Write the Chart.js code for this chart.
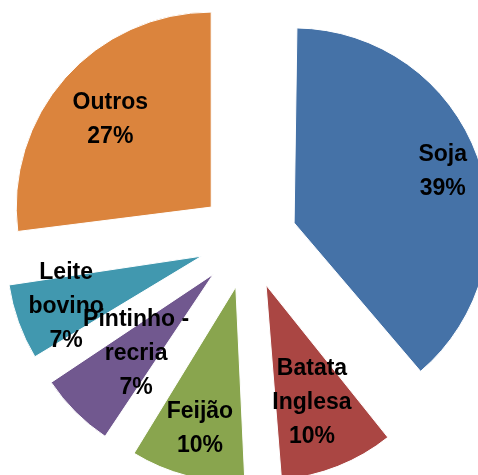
<!DOCTYPE html>
<meta charset="UTF-8">
<style>
  html, body { margin: 0; padding: 0; background: #fff; }
</style>

<div style="width:478px;height:475px">
  <canvas id="myChart" width="478" height="475"></canvas>
</div>

<script src="https://cdn.jsdelivr.net/npm/chart.js@4.4.0/dist/chart.umd.min.js"></script>

<script>
  // category names, split into the lines they are printed on
  const categories = [['Soja'], ['Batata', 'Inglesa'], ['Feijão'], ['Pintinho -', 'recria'], ['Leite', 'bovino'], ['Outros']];
  const shares = [39, 10, 10, 7, 7, 27];
  const colors = ['#4572A7', '#AA4643', '#89A54E', '#71588F', '#4198AF', '#DB843D'];

  const RADIUS = 195;
  const OFFSET = 196; // chart.js moves a slice by offset / 4
  // where each label sits along the middle of its slice (fraction of the radius)
  const labelPos = [0.81, 0.64, 0.74, 0.56, 0.74, 0.69];

  // chart.js grows exploded slices a bit, keep them all the same size
  const sameRadius = {
    id: 'sameRadius',
    beforeDatasetsDraw(chart) {
      chart.getDatasetMeta(0).data.forEach(arc => {
        const circ = arc.endAngle - arc.startAngle;
        const fix = 1 - Math.sin(Math.min(Math.PI, circ));
        arc.outerRadius = RADIUS - (OFFSET / 4) * fix;
      });
    }
  };

  const sliceLabels = {
    id: 'sliceLabels',
    afterDatasetsDraw(chart) {
      const ctx = chart.ctx;
      const size = 23;
      const lh = 34;
      ctx.save();
      ctx.font = 'bold ' + size + 'px "Liberation Sans", Arial, sans-serif';
      ctx.fillStyle = '#000';
      ctx.textAlign = 'center';
      ctx.textBaseline = 'alphabetic';
      chart.getDatasetMeta(0).data.forEach((arc, i) => {
        const mid = (arc.startAngle + arc.endAngle) / 2;
        const dist = OFFSET / 4 + labelPos[i] * RADIUS;
        const x = arc.x + Math.cos(mid) * dist;
        const y = arc.y + Math.sin(mid) * dist;
        const lines = categories[i].concat([shares[i] + '%']);
        lines.forEach((t, k) => {
          // centre the capitals of each line on its spot
          const cy = y + (k - (lines.length - 1) / 2) * lh;
          ctx.fillText(t, x, cy + size * 0.36);
        });
      });
      ctx.restore();
    }
  };

  new Chart(document.getElementById('myChart'), {
    type: 'pie',
    data: {
      labels: categories,
      datasets: [{
        data: shares,
        backgroundColor: colors,
        borderColor: '#ffffff',
        borderWidth: 1,
        offset: OFFSET,
        radius: RADIUS
      }]
    },
    options: {
      responsive: false,
      animation: false,
      layout: { padding: { left: 18, top: 4 } },
      plugins: {
        legend: { display: false },
        tooltip: { enabled: false }
      }
    },
    plugins: [sameRadius, sliceLabels]
  });
</script>
